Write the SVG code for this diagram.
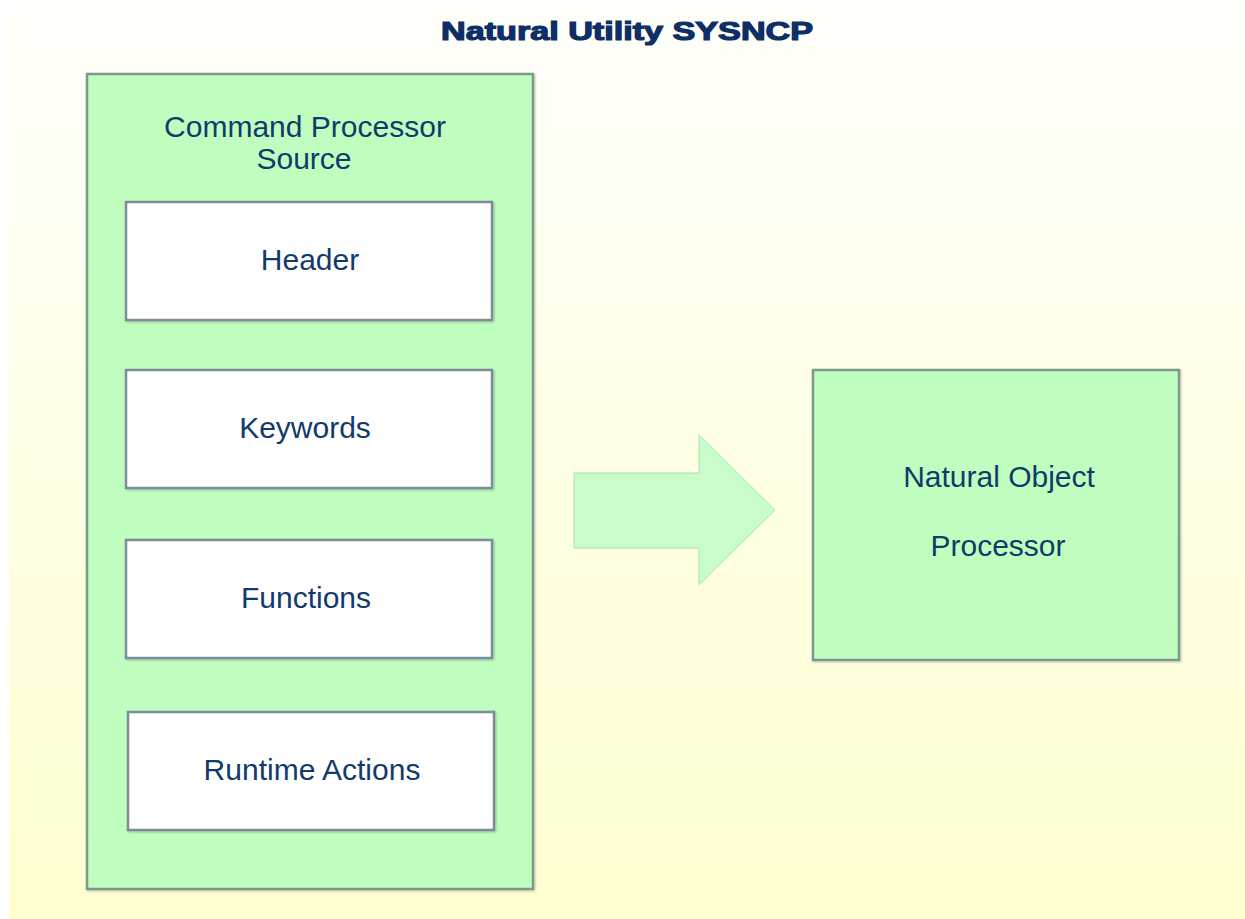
<svg xmlns="http://www.w3.org/2000/svg" width="1245" height="919" viewBox="0 0 1245 919">
<defs>
<linearGradient id="bg" x1="0" y1="0" x2="0" y2="1">
<stop offset="0" stop-color="#fffffb"/>
<stop offset="1" stop-color="#ffffd0"/>
</linearGradient>
<filter id="sh" x="-5%" y="-5%" width="110%" height="110%">
<feDropShadow dx="1" dy="1" stdDeviation="1" flood-color="#000" flood-opacity="0.25"/>
</filter>
</defs>
<style>
.green{fill:#c0fec0;stroke:#7c9a8a;stroke-width:2.5}
.white{fill:#ffffff;stroke:#7c8c9a;stroke-width:2.5}
.lbl{font-family:"Liberation Sans",Arial,sans-serif;font-size:30px;fill:#123a6a;text-anchor:middle}
.title{font-family:"Liberation Sans",Arial,sans-serif;font-size:25px;font-weight:bold;fill:#0e2f66;stroke:#0e2f66;stroke-width:1.2;text-anchor:middle}
</style>
<rect x="0" y="0" width="1245" height="919" fill="#ffffff"/>
<rect x="9" y="0" width="1236" height="919" fill="url(#bg)"/>
<text class="title" x="627" y="40" textLength="372" lengthAdjust="spacingAndGlyphs">Natural Utility SYSNCP</text>
<g id="cp-source">
<rect class="green" x="87" y="74" width="446" height="815" filter="url(#sh)"/>
<text class="lbl" x="305" y="137" textLength="282" lengthAdjust="spacingAndGlyphs">Command Processor</text>
<text class="lbl" x="304" y="169">Source</text>
</g>
<g id="header">
<rect class="white" x="126" y="202" width="366" height="118" filter="url(#sh)"/>
<text class="lbl" x="310" y="270">Header</text>
</g>
<g id="keywords">
<rect class="white" x="126" y="370" width="366" height="118" filter="url(#sh)"/>
<text class="lbl" x="305" y="438">Keywords</text>
</g>
<g id="functions">
<rect class="white" x="126" y="540" width="366" height="118" filter="url(#sh)"/>
<text class="lbl" x="306" y="608">Functions</text>
</g>
<g id="runtime-actions">
<rect class="white" x="128" y="712" width="366" height="118" filter="url(#sh)"/>
<text class="lbl" x="312" y="780">Runtime Actions</text>
</g>
<g id="connectors">
<polygon points="574,473 699,473 699,435 775,510 699,585 699,548 574,548" fill="#c8fcc8" stroke="#b0e0b0" stroke-width="1"/>
</g>
<g id="nat-obj-proc">
<rect class="green" x="813" y="370" width="366" height="290" filter="url(#sh)"/>
<text class="lbl" x="999" y="487">Natural Object</text>
<text class="lbl" x="998" y="556">Processor</text>
</g>
</svg>
